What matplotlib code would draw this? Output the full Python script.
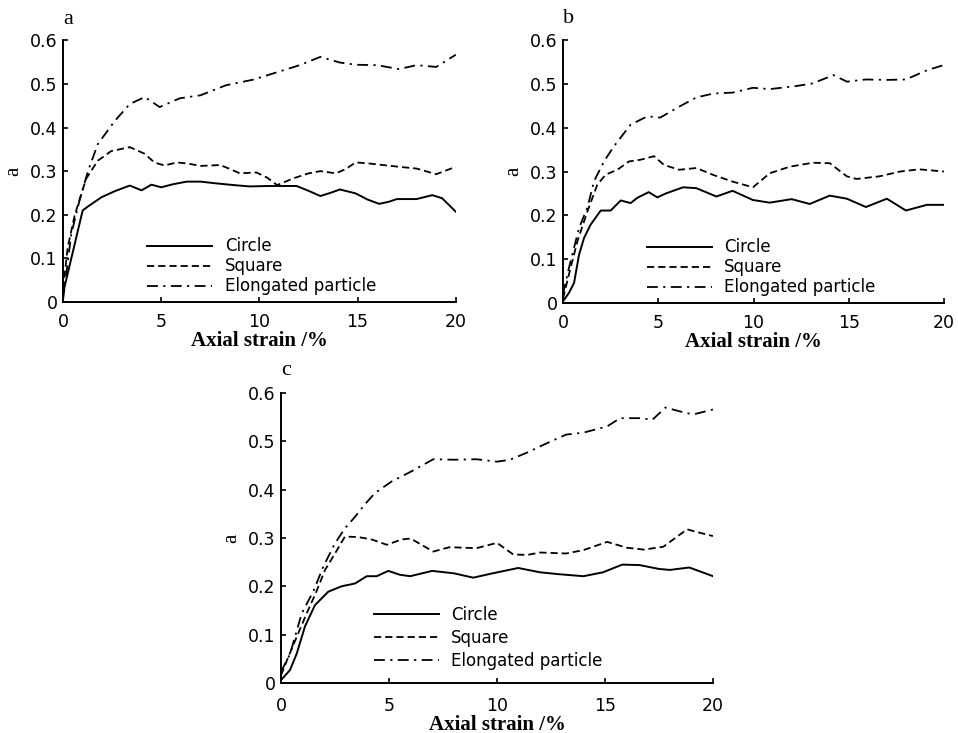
import matplotlib
matplotlib.use("Agg")
import matplotlib.pyplot as plt

# ---------------- data ----------------
# Panel a
a_circle_x = [0, 1.0, 1.27, 1.95, 2.63, 3.4, 4.0, 4.5, 5.0, 5.6, 6.3, 7.0, 7.8, 8.7, 9.5, 10.5, 11.9, 12.6, 13.1, 13.6, 14.1, 14.9, 15.5, 16.1, 16.6, 17.0, 18.0, 18.8, 19.3, 20]
a_circle_y = [0.02, 0.21, 0.219, 0.24, 0.254, 0.267, 0.256, 0.269, 0.263, 0.27, 0.276, 0.276, 0.272, 0.268, 0.265, 0.266, 0.266, 0.253, 0.243, 0.25, 0.258, 0.249, 0.235, 0.225, 0.23, 0.236, 0.236, 0.245, 0.238, 0.207]
a_square_x = [0, 0.24, 0.6, 1.18, 1.77, 2.45, 3.4, 4.15, 4.65, 5.16, 5.8, 6.4, 7.0, 8.0, 8.5, 9.0, 9.85, 10.4, 10.9, 11.7, 12.5, 13.1, 13.9, 14.4, 14.9, 15.5, 17.1, 18.0, 19.0, 20]
a_square_y = [0.03, 0.126, 0.2, 0.283, 0.324, 0.346, 0.355, 0.34, 0.32, 0.313, 0.32, 0.317, 0.312, 0.314, 0.305, 0.295, 0.297, 0.285, 0.268, 0.283, 0.295, 0.30, 0.295, 0.305, 0.32, 0.318, 0.31, 0.306, 0.293, 0.31]
a_elong_x = [0, 0.42, 0.84, 1.27, 1.77, 2.63, 3.4, 4.16, 4.92, 5.94, 7.0, 8.3, 9.7, 11.2, 12.05, 13.1, 14.1, 14.9, 16.0, 17.1, 18.0, 19.0, 20]
a_elong_y = [0.005, 0.156, 0.233, 0.30, 0.362, 0.415, 0.454, 0.47, 0.447, 0.467, 0.474, 0.497, 0.51, 0.531, 0.543, 0.562, 0.549, 0.544, 0.543, 0.534, 0.543, 0.539, 0.567]

# Panel b
b_circle_x = [0, 0.31, 0.58, 0.84, 1.1, 1.45, 1.98, 2.5, 3.03, 3.55, 3.9, 4.5, 4.95, 5.4, 6.3, 7.0, 8.05, 8.9, 9.97, 10.85, 12.0, 12.95, 14.0, 14.9, 15.9, 17.0, 18.0, 19.1, 20]
b_circle_y = [0.004, 0.023, 0.046, 0.11, 0.148, 0.179, 0.211, 0.211, 0.234, 0.228, 0.24, 0.253, 0.241, 0.25, 0.264, 0.262, 0.243, 0.256, 0.235, 0.229, 0.237, 0.226, 0.245, 0.238, 0.219, 0.238, 0.211, 0.224, 0.224]
b_square_x = [0, 0.31, 0.75, 1.28, 1.8, 2.24, 2.85, 3.46, 4.08, 4.78, 5.3, 6.1, 7.0, 7.9, 8.9, 9.97, 10.85, 11.9, 13.1, 14.0, 14.9, 15.4, 16.6, 17.7, 18.7, 20]
b_square_y = [0.01, 0.065, 0.14, 0.209, 0.27, 0.293, 0.304, 0.323, 0.327, 0.335, 0.315, 0.304, 0.308, 0.292, 0.277, 0.264, 0.296, 0.311, 0.32, 0.319, 0.289, 0.283, 0.289, 0.30, 0.305, 0.30]
b_elong_x = [0, 0.31, 0.84, 1.28, 1.63, 2.15, 2.68, 3.55, 4.43, 5.1, 6.1, 7.0, 7.9, 8.9, 9.97, 10.85, 12.25, 13.1, 14.2, 14.9, 15.9, 17.0, 18.0, 19.1, 20]
b_elong_y = [0.02, 0.08, 0.171, 0.218, 0.278, 0.323, 0.358, 0.407, 0.426, 0.423, 0.448, 0.469, 0.478, 0.48, 0.491, 0.488, 0.495, 0.501, 0.52, 0.505, 0.51, 0.509, 0.51, 0.531, 0.543]

# Panel c
c_circle_x = [0, 0.42, 0.73, 1.11, 1.57, 2.19, 2.8, 3.43, 3.97, 4.43, 4.97, 5.5, 5.98, 7.0, 8.0, 8.9, 9.8, 10.98, 12.0, 12.9, 14.0, 14.9, 15.8, 16.6, 17.5, 18.0, 18.9, 20]
c_circle_y = [0.006, 0.027, 0.061, 0.117, 0.161, 0.189, 0.20, 0.206, 0.221, 0.221, 0.232, 0.224, 0.221, 0.232, 0.227, 0.218, 0.227, 0.238, 0.229, 0.225, 0.221, 0.229, 0.245, 0.244, 0.236, 0.234, 0.239, 0.221]
c_square_x = [0, 0.34, 0.8, 1.19, 1.6, 2.04, 2.5, 2.96, 3.58, 4.2, 4.9, 5.58, 6.0, 7.05, 7.8, 9.05, 10.0, 10.75, 11.4, 12.0, 13.2, 14.0, 15.1, 16.0, 16.8, 17.7, 18.8, 19.2, 20]
c_square_y = [0.016, 0.054, 0.103, 0.144, 0.185, 0.234, 0.268, 0.303, 0.302, 0.297, 0.286, 0.297, 0.299, 0.272, 0.281, 0.279, 0.29, 0.266, 0.265, 0.27, 0.268, 0.275, 0.292, 0.28, 0.276, 0.282, 0.318, 0.313, 0.304]
c_elong_x = [0, 0.42, 0.96, 1.5, 1.96, 2.5, 2.96, 3.43, 3.89, 4.35, 5.12, 6.0, 7.05, 8.0, 9.05, 10.0, 10.6, 11.4, 12.3, 13.2, 14.0, 15.1, 15.7, 16.6, 17.2, 17.8, 18.8, 19.2, 20]
c_elong_y = [0.023, 0.06, 0.144, 0.19, 0.241, 0.289, 0.32, 0.344, 0.37, 0.393, 0.417, 0.437, 0.463, 0.462, 0.463, 0.458, 0.462, 0.477, 0.496, 0.514, 0.518, 0.531, 0.548, 0.548, 0.545, 0.57, 0.558, 0.557, 0.566]

series_labels = ["Circle", "Square", "Elongated particle"]
panel_letters = ["a", "b", "c"]
x_ticks = [0, 5, 10, 15, 20]
y_ticks = [0, 0.1, 0.2, 0.3, 0.4, 0.5, 0.6]
y_ticklabels = ["0", "0.1", "0.2", "0.3", "0.4", "0.5", "0.6"]

panels = [
    (a_circle_x, a_circle_y, a_square_x, a_square_y, a_elong_x, a_elong_y),
    (b_circle_x, b_circle_y, b_square_x, b_square_y, b_elong_x, b_elong_y),
    (c_circle_x, c_circle_y, c_square_x, c_square_y, c_elong_x, c_elong_y),
]

# ---------------- layout ----------------
fig = plt.figure(figsize=(9.58, 7.33), dpi=100)
rects = [
    [0.0658, 0.588, 0.410, 0.357],
    [0.5877, 0.5866, 0.3977, 0.3588],
    [0.2933, 0.0682, 0.451, 0.3956],
]
legend_anchor = [(0.215, 0.025), (0.22, 0.025), (0.215, 0.045)]
legend_spacing = [0.12, 0.12, 0.3]
xpads = [8, 8, 10]

serif = "Liberation Serif"
sans = "DejaVu Sans"

for i, (rect, data) in enumerate(zip(rects, panels)):
    ax = fig.add_axes(rect)
    cx, cy, sx, sy, ex, ey = data
    ax.plot(cx, cy, color="black", lw=1.4, ls="-", label=series_labels[0])
    ax.plot(sx, sy, color="black", lw=1.3, ls=(0, (4.0, 2.2)), label=series_labels[1])
    ax.plot(ex, ey, color="black", lw=1.3, ls=(0, (6, 3, 1.2, 3)), label=series_labels[2])
    ax.set_xlim(0, 20)
    ax.set_ylim(0, 0.6)
    ax.set_xticks(x_ticks)
    ax.set_yticks(y_ticks)
    ax.set_yticklabels(y_ticklabels)
    for s in ["top", "right"]:
        ax.spines[s].set_visible(False)
    for s in ["left", "bottom"]:
        ax.spines[s].set_linewidth(1.4)
    ax.tick_params(direction="in", length=3.5, width=1.2, labelsize=12.5)
    ax.tick_params(axis="x", pad=xpads[i])
    ax.tick_params(axis="y", pad=4)
    for lab in ax.get_xticklabels() + ax.get_yticklabels():
        lab.set_family(sans)
    ax.set_xlabel("Axial strain /%", fontfamily=serif, fontweight="bold", fontsize=15, labelpad=0)
    ax.set_ylabel("a", fontfamily=serif, fontsize=15, labelpad=5)
    ax.text(0.0, 1.045, panel_letters[i], transform=ax.transAxes, fontfamily=serif,
            fontsize=16, ha="left", va="bottom")
    leg = ax.legend(loc="lower left", bbox_to_anchor=legend_anchor[i], frameon=False,
                    prop={"family": sans, "size": 12}, handlelength=3.9,
                    handletextpad=0.75, labelspacing=legend_spacing[i], borderpad=0, borderaxespad=0)

fig.savefig("out.png", dpi=100)
